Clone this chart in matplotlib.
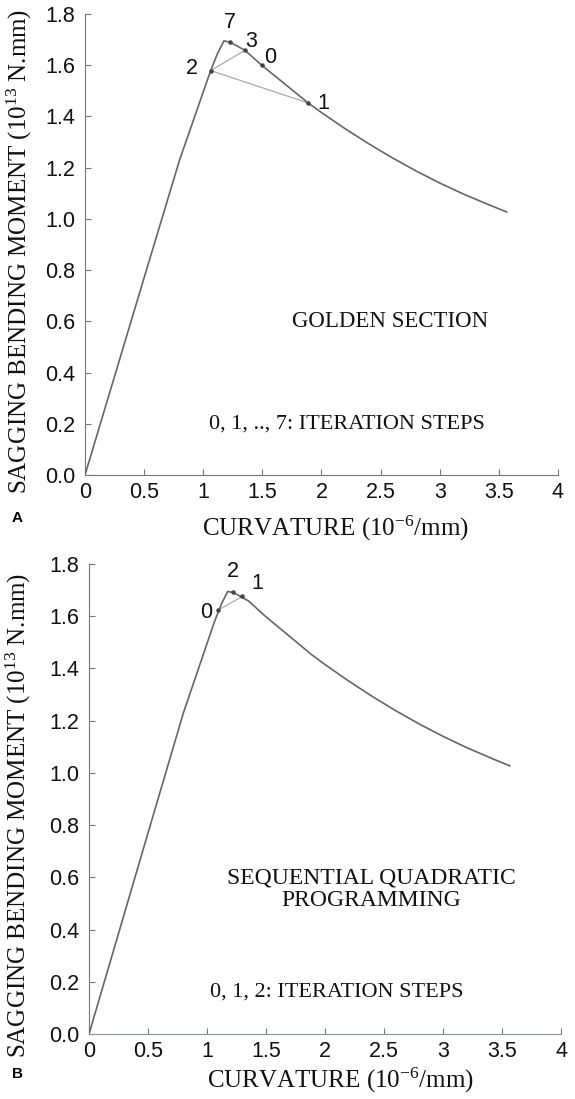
import numpy as np
import matplotlib
matplotlib.use("Agg")
import matplotlib.pyplot as plt

# moment-curvature curve (same for both panels)
curv = [0.0, 0.5, 0.8, 1.063, 1.12, 1.175, 1.226, 1.353, 1.494, 1.889,
        2.0, 2.2, 2.4, 2.6, 2.8, 3.0, 3.2, 3.4, 3.566]
moment = [0.0, 0.77, 1.23, 1.579, 1.645, 1.695, 1.690, 1.658, 1.600, 1.452,
          1.415, 1.352, 1.293, 1.238, 1.187, 1.140, 1.097, 1.058, 1.027]

# golden section iteration points
gs_steps = ["0", "1", "2", "3", "7"]
gs_x = [1.494, 1.889, 1.063, 1.353, 1.226]
gs_y = [1.600, 1.452, 1.579, 1.658, 1.690]

# sequential quadratic programming iteration points
sqp_steps = ["0", "1", "2"]
sqp_x = [1.096, 1.300, 1.223]
sqp_y = [1.624, 1.676, 1.692]

xticks = [0, 0.5, 1, 1.5, 2, 2.5, 3, 3.5, 4]
xtick_labels = ["0", "0.5", "1", "1.5", "2", "2.5", "3", "3.5", "4"]
yticks = [0.0, 0.2, 0.4, 0.6, 0.8, 1.0, 1.2, 1.4, 1.6, 1.8]

plt.rcParams['mathtext.fontset'] = 'custom'
plt.rcParams['mathtext.rm'] = 'Liberation Serif'
plt.rcParams['mathtext.it'] = 'Liberation Serif:italic'

serif = 'Liberation Serif'
sans = 'Liberation Sans'

fig = plt.figure(figsize=(5.75, 10.99), dpi=100)
axA = fig.add_axes([0.1478, 0.5678, 0.8226, 0.4195])
axB = fig.add_axes([0.1548, 0.0591, 0.8209, 0.4277])


def setup(ax, bottom_color):
    ax.plot(curv, moment, color='#666666', lw=1.2, zorder=3)
    ax.set_xlim(0, 4)
    ax.set_ylim(0, 1.8)
    ax.spines['top'].set_visible(False)
    ax.spines['right'].set_visible(False)
    ax.spines['left'].set_color('#777777')
    ax.spines['bottom'].set_color(bottom_color)
    ax.tick_params(direction='in', length=4, colors='#777777',
                   labelcolor='#111111', labelsize=15.5)
    ax.tick_params(axis='y', pad=7)
    ax.tick_params(axis='x', pad=5)
    ax.set_xticks(xticks)
    ax.set_xticklabels(xtick_labels, family=sans)
    ax.set_yticks(yticks)
    ax.set_yticklabels(["%.1f" % v for v in yticks], family=sans)
    ax.set_ylabel("SAGGING BENDING MOMENT (10$^{13}$ N.mm)", family=serif,
                  fontsize=18, color='#111111')
    ax.set_xlabel("CURVATURE (10$^{-6}$/mm)", family=serif, fontsize=18,
                  color='#111111')


# ---- panel A: golden section ----
setup(axA, '#777777')
axA.plot([gs_x[2], gs_x[1]], [gs_y[2], gs_y[1]], color='#aaaaaa', lw=0.9)
axA.plot([gs_x[2], gs_x[3]], [gs_y[2], gs_y[3]], color='#aaaaaa', lw=0.9)
axA.scatter(gs_x, gs_y, s=5, color='#444444', zorder=4)
lab_off = {"0": (0.07, 0.03), "1": (0.13, 0.0), "2": (-0.16, 0.01),
           "3": (0.05, 0.035), "7": (0.0, 0.075)}
for s, x, y in zip(gs_steps, gs_x, gs_y):
    dx, dy = lab_off[s]
    axA.text(x + dx, y + dy, s, family=sans, fontsize=15.5, ha='center',
             va='center', color='#111111')
axA.text(2.58, 0.60, "GOLDEN SECTION", family=serif, fontsize=16.5,
         ha='center', va='center', color='#111111')
axA.text(2.216, 0.20, "0, 1, .., 7: ITERATION STEPS", family=serif,
         fontsize=16, ha='center', va='center', color='#111111')
axA.yaxis.set_label_coords(-0.108, 0.485)
axA.xaxis.set_label_coords(0.529, -0.085)

# ---- panel B: sequential quadratic programming ----
setup(axB, '#8090c0')
axB.plot([sqp_x[0], sqp_x[1]], [sqp_y[0], sqp_y[1]], color='#aaaaaa', lw=0.9)
axB.scatter(sqp_x, sqp_y, s=5, color='#444444', zorder=4)
lab_offB = {"0": (-0.1, -0.01), "1": (0.13, 0.05), "2": (0.0, 0.08)}
for s, x, y in zip(sqp_steps, sqp_x, sqp_y):
    dx, dy = lab_offB[s]
    axB.text(x + dx, y + dy, s, family=sans, fontsize=15.5, ha='center',
             va='center', color='#111111')
axB.text(2.39, 0.555, "SEQUENTIAL QUADRATIC\nPROGRAMMING", family=serif,
         fontsize=17, ha='center', va='center', linespacing=1.05,
         color='#111111')
axB.text(2.10, 0.16, "0, 1, 2: ITERATION STEPS", family=serif,
         fontsize=16, ha='center', va='center', color='#111111')
axB.yaxis.set_label_coords(-0.118, 0.465)
axB.xaxis.set_label_coords(0.532, -0.068)

fig.text(12 / 575, 1 - 518 / 1099, "A", family=sans, fontweight='bold',
         fontsize=11, ha='left', va='center')
fig.text(12 / 575, 1 - 1074 / 1099, "B", family=sans, fontweight='bold',
         fontsize=11, ha='left', va='center')

fig.savefig("out.png", dpi=100)
